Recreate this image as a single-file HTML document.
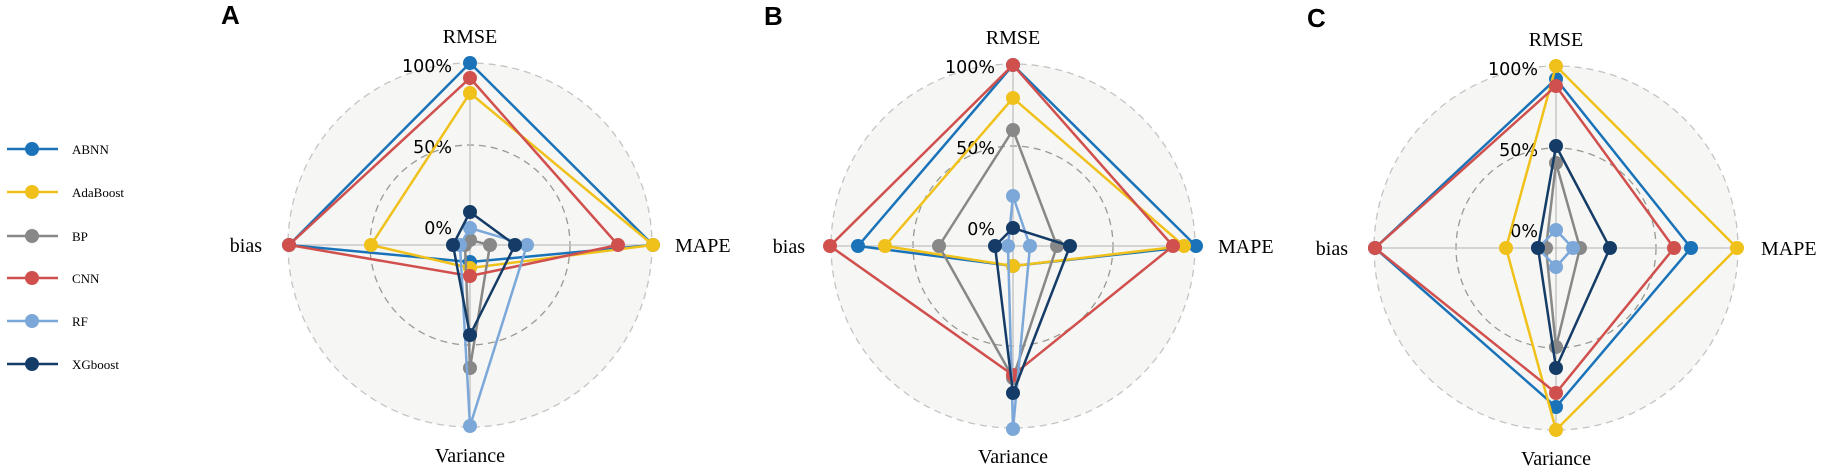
<!DOCTYPE html>
<html><head><meta charset="utf-8"><style>
html,body{margin:0;padding:0;background:#fff;width:1825px;height:470px;overflow:hidden}
svg{display:block}
</style></head><body>
<svg id="s" width="1825" height="470" xmlns="http://www.w3.org/2000/svg"></svg>
<script>
const C={ABNN:'#1a73b8',AdaBoost:'#f0c11a',BP:'#888888',CNN:'#d0504e',RF:'#7ba7d9',XGboost:'#143c66'};
const names=['ABNN','AdaBoost','BP','CNN','RF','XGboost'];
const charts=[
 {cx:470,cy:245,L:'A',d:{ABNN:[182,183,17,181],AdaBoost:[152,183,23,99],BP:[5,20,123,5],CNN:[167,148,31,181],RF:[17,57,181,10],XGboost:[33,45,90,17]}},
 {cx:1013,cy:246,L:'B',d:{ABNN:[181,183,20,155],AdaBoost:[148,171,20,128],BP:[116,44,132,74],CNN:[181,160,129,183],RF:[50,17,183,5],XGboost:[18,57,147,18]}},
 {cx:1556,cy:248,L:'C',d:{ABNN:[169,135,159,181],AdaBoost:[182,181,182,50],BP:[85,24,99,10],CNN:[162,118,145,181],RF:[18,17,19,18],XGboost:[102,54,120,18]}}
];
let h='';
const serif='font-family="Liberation Serif, serif"', sans='font-family="DejaVu Sans, Liberation Sans, sans-serif"';
for(const c of charts){
 const {cx,cy}=c, R=182;
 h+=`<circle cx="${cx}" cy="${cy}" r="${R}" fill="#f6f6f4" stroke="#c4c4c4" stroke-width="1.3" stroke-dasharray="7,5"/>`;
 h+=`<circle cx="${cx}" cy="${cy}" r="100" fill="none" stroke="#9a9a92" stroke-width="1.3" stroke-dasharray="7,5"/>`;
 h+=`<line x1="${cx}" y1="${cy-R}" x2="${cx}" y2="${cy+R}" stroke="#c0c0c0" stroke-width="1.3"/>`;
 h+=`<line x1="${cx-R}" y1="${cy}" x2="${cx+R}" y2="${cy}" stroke="#c0c0c0" stroke-width="1.3"/>`;
 h+=`<text x="${cx-249}" y="${cy-221}" font-family="Liberation Sans, sans-serif" font-weight="bold" font-size="26">${c.L}</text>`;
 h+=`<text x="${cx}" y="${cy-202}" text-anchor="middle" ${serif} font-size="20">RMSE</text>`;
 h+=`<text x="${cx}" y="${cy+217}" text-anchor="middle" ${serif} font-size="20">Variance</text>`;
 h+=`<text x="${cx-208}" y="${cy+7}" text-anchor="end" ${serif} font-size="20">bias</text>`;
 h+=`<text x="${cx+205}" y="${cy+7}" ${serif} font-size="20">MAPE</text>`;
 h+=`<text x="${cx-18}" y="${cy-173}" text-anchor="end" ${sans} font-size="17.5">100%</text>`;
 h+=`<text x="${cx-18}" y="${cy-92}" text-anchor="end" ${sans} font-size="17.5">50%</text>`;
 h+=`<text x="${cx-18}" y="${cy-11}" text-anchor="end" ${sans} font-size="17.5">0%</text>`;
 for(const n of names){
  const [t,r,b,l]=c.d[n];
  const p=[[cx,cy-t],[cx+r,cy],[cx,cy+b],[cx-l,cy]];
  h+=`<polygon points="${p.map(q=>q.join(',')).join(' ')}" fill="none" stroke="${C[n]}" stroke-width="2.5" stroke-linejoin="miter"/>`;
  for(const q of p) h+=`<circle cx="${q[0]}" cy="${q[1]}" r="7" fill="${C[n]}"/>`;
 }
}
const ly=[149,192,236,278,321,364];
names.forEach((n,i)=>{
 h+=`<line x1="7" y1="${ly[i]}" x2="58" y2="${ly[i]}" stroke="${C[n]}" stroke-width="2.5"/>`;
 h+=`<circle cx="32" cy="${ly[i]}" r="7" fill="${C[n]}"/>`;
 h+=`<text x="72" y="${ly[i]+5}" ${serif} font-size="13">${n}</text>`;
});
document.getElementById('s').innerHTML=h;
</script>
</body></html>
